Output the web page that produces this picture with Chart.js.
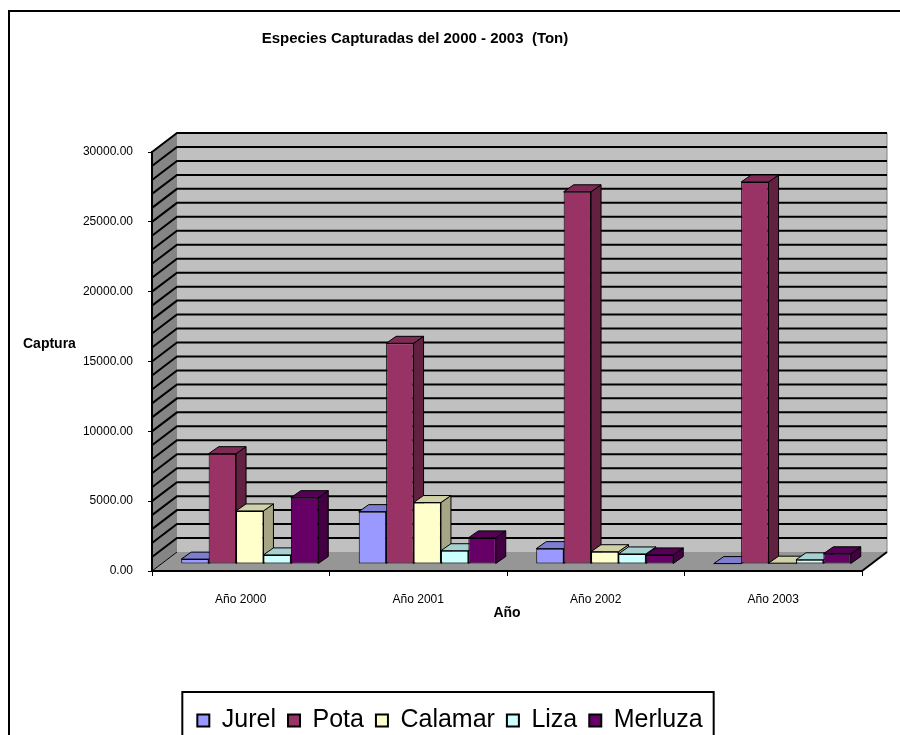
<!DOCTYPE html>
<html>
<head>
<meta charset="utf-8">
<script src="https://cdn.jsdelivr.net/npm/chart.js@4.4.0/dist/chart.umd.min.js"></script>
<style>
  html, body { margin: 0; padding: 0; overflow: hidden; background: #fff; }
  canvas { display: block; }
</style>
</head>
<body>
<canvas id="chart" width="900" height="760"></canvas>
<script>
// captura anual por especie (toneladas)
const categories = ['Año 2000', 'Año 2001', 'Año 2002', 'Año 2003'];
const jurel   = [350, 3750, 1100, 30];
const pota    = [7900, 15800, 26650, 27350];
const calamar = [3800, 4400, 880, 60];
const liza    = [650, 950, 720, 300];
const merluza = [4750, 1870, 650, 730];

const yMax = 30000;
const yLabelStep = 5000;
const gridStep = 1000;

const FONT = "Arial, 'Liberation Sans', sans-serif";

// profundidad de las paredes y de las columnas
const WALL_DX = 25, WALL_DY = 19;
const BAR_SHIFT_X = 9, BAR_SHIFT_Y = 7;
const BAR_DX = 10, BAR_DY = 7;

function shade(hex, f) {
  const n = parseInt(hex.slice(1), 16);
  const r = Math.round(((n >> 16) & 255) * f);
  const g = Math.round(((n >> 8) & 255) * f);
  const b = Math.round((n & 255) * f);
  return `rgb(${r},${g},${b})`;
}

function poly(ctx, pts) {
  ctx.beginPath();
  ctx.moveTo(pts[0][0], pts[0][1]);
  for (let i = 1; i < pts.length; i++) ctx.lineTo(pts[i][0], pts[i][1]);
  ctx.closePath();
}

const walls3d = {
  id: 'walls3d',
  beforeDraw(chart) {
    const { ctx, chartArea: a, scales: { y } } = chart;
    ctx.save();

    // marco exterior
    ctx.strokeStyle = '#000';
    ctx.lineWidth = 2;
    ctx.strokeRect(9, 11, 960, 800);

    // pared del fondo
    ctx.fillStyle = '#c0c0c0';
    ctx.fillRect(a.left + WALL_DX, a.top - WALL_DY, a.right - a.left, a.bottom - a.top);
    ctx.strokeStyle = '#808080';
    ctx.lineWidth = 1;
    ctx.beginPath();
    ctx.moveTo(a.right + WALL_DX, a.top - WALL_DY);
    ctx.lineTo(a.right + WALL_DX, a.bottom - WALL_DY);
    ctx.stroke();

    // pared lateral
    ctx.fillStyle = '#858585';
    poly(ctx, [[a.left, a.top], [a.left + WALL_DX, a.top - WALL_DY],
               [a.left + WALL_DX, a.bottom - WALL_DY], [a.left, a.bottom]]);
    ctx.fill();

    // piso
    ctx.fillStyle = '#969696';
    poly(ctx, [[a.left, a.bottom], [a.right, a.bottom],
               [a.right + WALL_DX, a.bottom - WALL_DY], [a.left + WALL_DX, a.bottom - WALL_DY]]);
    ctx.fill();
    ctx.strokeStyle = '#000';
    ctx.lineWidth = 2;
    ctx.beginPath();
    ctx.moveTo(a.right, a.bottom);
    ctx.lineTo(a.right + WALL_DX, a.bottom - WALL_DY);
    ctx.stroke();
    ctx.lineWidth = 1;
    ctx.beginPath();
    ctx.moveTo(a.left, a.bottom);
    ctx.lineTo(a.left + WALL_DX, a.bottom - WALL_DY);
    ctx.stroke();

    // lineas de division cada 1000
    ctx.strokeStyle = '#000';
    ctx.lineWidth = 2;
    for (let v = gridStep; v <= yMax; v += gridStep) {
      const py = y.getPixelForValue(v);
      ctx.beginPath();
      ctx.moveTo(a.left, py);
      ctx.lineTo(a.left + WALL_DX, py - WALL_DY);
      ctx.lineTo(a.right + WALL_DX, py - WALL_DY);
      ctx.stroke();
    }
    ctx.restore();
  },

  beforeDatasetsDraw(chart) {
    const ctx = chart.ctx;
    ctx.save();
    ctx.translate(BAR_SHIFT_X, -BAR_SHIFT_Y);
    ctx.lineWidth = 1;
    ctx.strokeStyle = '#000';
    ctx.lineJoin = 'round';
    // caras laterales y superiores, de izquierda a derecha
    chart.data.datasets.forEach((ds, i) => {
      const meta = chart.getDatasetMeta(i);
      meta.data.forEach(bar => {
        const { x, y, base, width } = bar.getProps(['x', 'y', 'base', 'width'], true);
        const l = x - width / 2, r = x + width / 2;
        ctx.fillStyle = shade(ds.backgroundColor, 0.65);
        poly(ctx, [[r, y], [r + BAR_DX, y - BAR_DY], [r + BAR_DX, base - BAR_DY], [r, base]]);
        ctx.fill(); ctx.stroke();
        ctx.fillStyle = shade(ds.backgroundColor, 0.82);
        poly(ctx, [[l, y], [l + BAR_DX, y - BAR_DY], [r + BAR_DX, y - BAR_DY], [r, y]]);
        ctx.fill(); ctx.stroke();
      });
    });
  },

  afterDatasetsDraw(chart) {
    chart.ctx.restore();
  },

  afterDraw(chart) {
    const { ctx, legend } = chart;
    ctx.save();
    ctx.fillStyle = '#000';
    ctx.textBaseline = 'middle';

    ctx.font = `bold 15px ${FONT}`;
    ctx.textAlign = 'center';
    ctx.fillText('Especies Capturadas del 2000 - 2003  (Ton)', 415, 39);

    ctx.font = `bold 14px ${FONT}`;
    ctx.textAlign = 'left';
    ctx.fillText('Captura', 23, 344);

    // recuadro de la leyenda
    const boxes = legend.legendHitBoxes;
    if (boxes.length) {
      const first = boxes[0], last = boxes[boxes.length - 1];
      ctx.strokeStyle = '#000';
      ctx.lineWidth = 2;
      ctx.strokeRect(first.left - 15, legend.top - 4, last.left + last.width + 26 - first.left, 200);
    }
    ctx.restore();
  }
};

const datasets = [
  { label: 'Jurel',   data: jurel,   backgroundColor: '#9999FF' },
  { label: 'Pota',    data: pota,    backgroundColor: '#993366' },
  { label: 'Calamar', data: calamar, backgroundColor: '#FFFFCC' },
  { label: 'Liza',    data: liza,    backgroundColor: '#CCFFFF' },
  { label: 'Merluza', data: merluza, backgroundColor: '#660066' }
].map(d => Object.assign(d, { borderColor: '#000', borderWidth: 1, borderSkipped: false }));

new Chart(document.getElementById('chart'), {
  type: 'bar',
  data: { labels: categories, datasets: datasets },
  options: {
    responsive: false,
    animation: false,
    layout: { padding: { left: 38, right: 38, top: 152, bottom: 17 } },
    datasets: { bar: { barPercentage: 1, categoryPercentage: 0.772 } },
    plugins: {
      title: { display: false },
      tooltip: { enabled: false },
      legend: {
        position: 'bottom',
        labels: {
          color: '#000',
          font: { family: FONT, size: 25 },
          boxWidth: 12,
          boxHeight: 12,
          padding: 12,
          generateLabels(chart) {
            return Chart.defaults.plugins.legend.labels.generateLabels(chart)
              .map(item => Object.assign(item, { lineWidth: 2 }));
          }
        }
      }
    },
    scales: {
      x: {
        grid: { offset: true, drawOnChartArea: false, tickLength: 5, color: '#000' },
        border: { color: '#000', width: 2 },
        ticks: { color: '#000', font: { family: FONT, size: 12 }, padding: 16, maxRotation: 0 },
        title: {
          display: true, text: 'Año', color: '#000',
          font: { family: FONT, size: 14, weight: 'bold' },
          padding: { top: 0, bottom: 74 }
        },
        afterFit(scale) { scale.height = 125; }
      },
      y: {
        min: 0,
        max: yMax,
        grid: { drawOnChartArea: false, tickLength: 4, color: '#000' },
        border: { color: '#000', width: 2 },
        ticks: {
          stepSize: yLabelStep,
          color: '#000',
          padding: 15,
          font: { family: FONT, size: 12 },
          callback: v => Number(v).toFixed(2)
        },
        afterFit(scale) { scale.width = 114; }
      }
    }
  },
  plugins: [walls3d]
});
</script>
</body>
</html>
